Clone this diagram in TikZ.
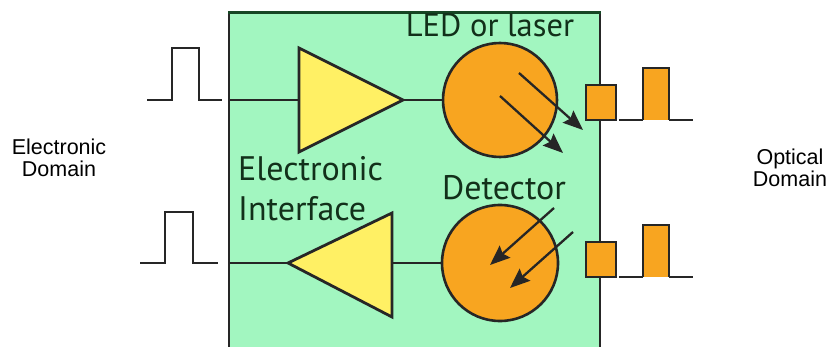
\documentclass[tikz,border=0pt]{standalone}
\usepackage{fontspec}
\setmainfont{Liberation Sans}
\newfontfamily\boxfont{PT Sans}
\usetikzlibrary{arrows.meta}
\definecolor{mint}{RGB}{162,246,192}
\definecolor{darkgreen}{RGB}{22,70,36}
\definecolor{txtgreen}{RGB}{18,48,26}
\definecolor{ampyellow}{RGB}{255,240,100}
\definecolor{ledorange}{RGB}{248,165,32}
\tikzset{
  wire/.style={line width=2.6pt, black!85},
  amp/.style={line width=2.8pt, draw=black!85, fill=ampyellow, line join=miter},
  optic/.style={circle, minimum size=#1, inner sep=0pt, line width=2.6pt, draw=black!85, fill=ledorange},
  ray/.style={line width=2.3pt, black!85, -{Stealth[length=20pt,width=16pt,inset=3pt]}},
  port/.style={line width=2.6pt, draw=black!85, fill=ledorange},
  boxlabel/.style={font=\boxfont\fontsize{#1}{#1}\selectfont, text=txtgreen, inner sep=0pt},
  domlabel/.style={font=\fontsize{21.5}{23}\selectfont, align=center, inner sep=0pt}
}
\begin{document}
\begin{tikzpicture}[x=1pt,y=-1pt]
\useasboundingbox (0,0) rectangle (829,347);
% module box
\fill[mint] (229,13) rectangle (600,360);
\draw[line width=2.6pt, black!85] (229,360) -- (229,13);
\draw[line width=2.6pt, black!85] (600,13) -- (600,360);
\draw[line width=3pt, darkgreen] (228,13) -- (601,13);

% ---------- transmitter ----------
\coordinate (tin) at (229,100);
\draw[wire] (147,100) -- (172,100) -- (172,48) -- (199,48) -- (199,100) -- (222,100);
\coordinate (ta) at (299,48);
\coordinate (tb) at (299,152);
\coordinate (tout) at (403,100);
\coordinate (tinamp) at (299,100);
\draw[amp] (ta) -- (tout) -- (tb) -- cycle;
\draw[wire] (tin) -- (tinamp);
\node[optic=114pt] (led) at (500,100) {};
\draw[wire] (tout) -- (led.west);
\coordinate (r1s) at (519,73); \coordinate (r1e) at (583,130);
\coordinate (r2s) at (500,96); \coordinate (r2e) at (563,153);
\draw[ray] (r1s) -- (r1e);
\draw[ray] (r2s) -- (r2e);
\draw[port] (586,85) rectangle (616,120);
\draw[wire] (619,120) -- (643,120);
\draw[port] (643,120) -- (643,68) -- (669,68) -- (669,120);
\draw[wire] (669,120) -- (693,120);

% ---------- receiver ----------
\coordinate (rin) at (229,263);
\draw[wire] (140,263) -- (165,263) -- (165,212) -- (193,212) -- (193,263) -- (218,263);
\coordinate (ra) at (392,213);
\coordinate (rb) at (392,317);
\coordinate (rapex) at (288,263);
\coordinate (rback) at (392,263);
\draw[amp] (ra) -- (rapex) -- (rb) -- cycle;
\draw[wire] (rin) -- (rapex);
\node[optic=116pt] (det) at (500,263) {};
\draw[wire] (rback) -- (det.west);
\coordinate (d1s) at (554,208); \coordinate (d1e) at (490,265);
\coordinate (d2s) at (573,232); \coordinate (d2e) at (510,288);
\draw[ray] (d1s) -- (d1e);
\draw[ray] (d2s) -- (d2e);
\draw[port] (586,242) rectangle (616,277);
\draw[wire] (619,277) -- (643,277);
\draw[port] (643,277) -- (643,225) -- (669,225) -- (669,277);
\draw[wire] (669,277) -- (693,277);

% ---------- labels ----------
\node[boxlabel=32.5, anchor=base] (ledlbl) at (490,37) {LED or laser};
\node[boxlabel=34, anchor=base west] (el1) at (238,181) {Electronic};
\node[boxlabel=34, anchor=base west] (el2) at (238,221) {Interface};
\node[boxlabel=34, anchor=base] (detlbl) at (504,200) {Detector};
\node[domlabel, anchor=base] (ed1) at (59,155) {Electronic};
\node[domlabel, anchor=base] (ed2) at (59,177) {Domain};
\node[domlabel, anchor=base] (od1) at (790,165) {Optical};
\node[domlabel, anchor=base] (od2) at (790,187) {Domain};
\end{tikzpicture}
\end{document}
